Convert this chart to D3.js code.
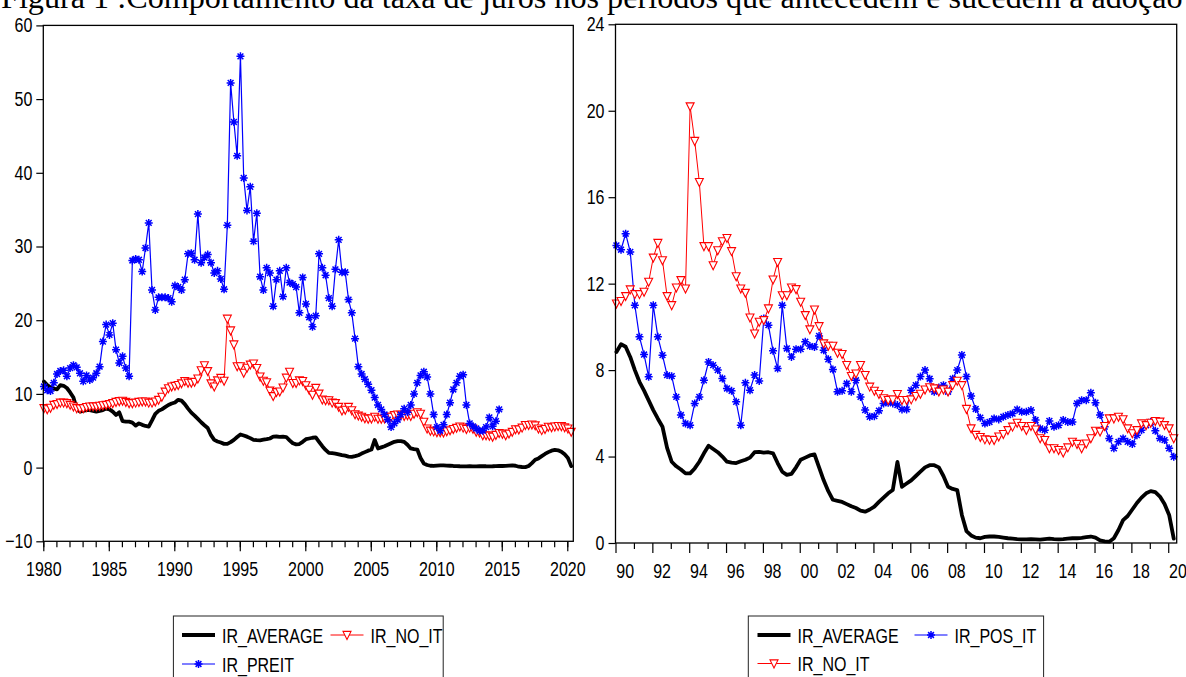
<!DOCTYPE html>
<html>
<head>
<meta charset="utf-8">
<script src="https://cdn.jsdelivr.net/npm/d3@7"></script>
<style>
  body { margin: 0; background: #fff; }
  svg { display: block; }
  .axis path { display: none; }
  .axis line { stroke: #000; stroke-width: 1.2; }
  .axis text, .legend text { font-family: "Liberation Sans", Arial, sans-serif; font-size: 20px; fill: #000; }
</style>
</head>
<body>
<svg id="chart" width="1186" height="677"></svg>
<script>
// quarterly series
// IR_AVERAGE, 1980Q1 - 2020Q2
const irAverage = [
  11.67, 11.2, 10.9, 10.7, 10.63, 11.2, 11.1, 10.8, 10.2, 9.5,
  8.0, 7.6, 7.7, 7.8, 7.8, 7.7, 7.6, 7.7, 7.8, 8.0,
  7.9, 7.6, 7.15, 7.5, 6.3, 6.24, 6.24, 6.1, 5.7, 6.0,
  5.8, 5.65, 5.57, 6.4, 7.3, 7.7, 7.9, 8.2, 8.5, 8.7,
  8.84, 9.2, 9.08, 8.61, 8.0, 7.46, 7.05, 6.6, 6.15, 5.75,
  5.38, 4.4, 3.76, 3.55, 3.4, 3.22, 3.22, 3.45, 3.76, 4.15,
  4.5, 4.35, 4.2, 4.0, 3.76, 3.72, 3.7, 3.78, 3.85, 3.95,
  4.2, 4.22, 4.18, 4.2, 4.15, 3.7, 3.3, 3.15, 3.2, 3.5,
  3.85, 3.95, 4.05, 4.1, 3.5, 2.9, 2.4, 2.0, 1.95, 1.9,
  1.8, 1.7, 1.62, 1.5, 1.45, 1.55, 1.68, 1.9, 2.1, 2.3,
  2.45, 3.75, 2.6, 2.75, 2.9, 3.1, 3.3, 3.5, 3.6, 3.6,
  3.5, 3.1, 2.6, 2.5, 2.45, 1.3, 0.55, 0.35, 0.25, 0.22,
  0.28, 0.3, 0.3, 0.28, 0.25, 0.22, 0.2, 0.18, 0.17, 0.17,
  0.18, 0.17, 0.16, 0.18, 0.2, 0.18, 0.17, 0.18, 0.2, 0.22,
  0.22, 0.24, 0.27, 0.3, 0.25, 0.12, 0.08, 0.06, 0.22, 0.6,
  1.06, 1.25, 1.55, 1.85, 2.1, 2.3, 2.4, 2.35, 2.15, 1.8, 1.3, 0.2
];

// IR_NO_IT, 1980Q1 - 2020Q2
const irNoIt = [
  8.05, 7.9, 8.1, 8.5, 8.6, 8.8, 8.8, 8.73, 8.5, 8.28,
  8.05, 8.0, 8.05, 8.2, 8.28, 8.3, 8.3, 8.37, 8.45, 8.5,
  8.6, 8.73, 8.9, 9.0, 9.05, 8.9, 8.73, 8.73, 8.8, 8.9,
  8.96, 8.96, 8.8, 8.8, 8.96, 9.18, 9.6, 10.3, 10.76, 11.0,
  11.08, 11.19, 11.42, 11.73, 11.51, 11.51, 11.62, 12.08, 13.2, 13.88,
  13.08, 11.42, 11.0, 11.82, 12.16, 11.77, 20.2, 18.6, 16.7, 13.73,
  13.73, 12.85, 13.54, 13.96, 14.11, 13.5, 12.34, 11.77, 11.57, 10.43,
  9.69, 10.23, 10.31, 10.85, 12.19, 13.0, 11.46, 11.46, 11.82, 11.74,
  11.16, 10.54, 9.88, 10.8, 10.03, 9.23, 9.12, 9.12, 8.8, 8.74,
  8.23, 7.72, 7.84, 8.23, 7.77, 7.23, 7.04, 6.89, 6.69, 6.61,
  6.64, 6.89, 6.61, 6.61, 6.64, 6.8, 6.9, 7.1, 7.2, 7.15,
  7.0, 7.1, 7.0, 7.3, 7.5, 7.3, 6.2, 5.3, 5.0, 4.9,
  4.79, 4.77, 4.76, 4.92, 5.04, 5.22, 5.38, 5.56, 5.41, 5.22,
  5.41, 5.25, 4.84, 4.76, 4.38, 4.38, 4.3, 4.18, 4.42, 4.68,
  4.58, 4.38, 4.6, 4.84, 5.19, 5.15, 5.41, 5.76, 5.76, 5.84,
  5.72, 5.3, 5.07, 5.22, 5.53, 5.45, 5.56, 5.64, 5.61, 5.45, 5.3, 4.84
];

// IR_PREIT, 1980Q1 - 2014Q4
const irPreIt = [
  11.0, 10.5, 10.4, 11.5, 12.7, 13.1, 13.2, 12.4, 13.5, 13.9,
  13.6, 12.8, 11.7, 12.5, 11.9, 12.2, 12.8, 13.7, 17.1, 19.4,
  18.0, 19.6, 16.0, 14.2, 15.1, 13.5, 12.4, 28.1, 28.3, 28.2,
  26.6, 29.8, 33.2, 24.1, 21.4, 23.1, 23.1, 23.1, 23.0, 22.5,
  24.7, 24.5, 24.1, 25.5, 29.0, 29.1, 28.2, 34.4, 27.8, 28.5,
  28.9, 27.8, 26.4, 26.7, 25.6, 24.2, 32.9, 52.2, 46.9, 42.3,
  55.8, 39.3, 34.9, 38.1, 30.7, 34.5, 25.9, 24.1, 27.1, 26.4,
  21.9, 25.5, 26.7, 23.2, 27.1, 25.1, 24.9, 24.5, 21.0, 25.8,
  22.2, 20.4, 19.1, 20.6, 29.0, 27.1, 26.1, 23.0, 21.9, 26.9,
  30.9, 26.5, 26.5, 22.8, 21.0, 17.5, 13.7, 12.7, 12.0, 11.3,
  10.5, 9.5, 8.5, 7.9, 7.2, 6.5, 5.5, 6.0, 6.5, 7.2,
  8.0, 7.5, 8.5, 10.0, 11.5, 12.5, 13.0, 12.3, 10.0, 7.2,
  5.5, 5.0, 5.8, 7.2, 8.8, 10.6, 11.5, 12.4, 12.6, 8.5,
  6.0, 5.6, 5.3, 5.0, 5.0, 5.5, 6.8, 5.6, 6.3, 7.9
];

// IR_POS_IT, 1990Q1 - 2020Q2
const irPosIt = [
  13.77, 13.57, 14.31, 13.47, 11.0, 9.54, 8.72, 7.69, 11.0, 9.54,
  8.69, 7.77, 7.72, 6.76, 5.92, 5.53, 5.45, 6.46, 6.76, 7.53,
  8.38, 8.23, 8.0, 7.61, 7.15, 7.04, 6.53, 5.45, 7.41, 7.07,
  7.77, 7.5, 10.39, 10.08, 8.89, 8.07, 11.0, 9.0, 8.61, 8.97,
  8.97, 9.31, 9.11, 9.07, 9.58, 8.92, 8.5, 8.03, 7.0, 7.04,
  7.38, 7.0, 7.53, 6.76, 6.15, 5.84, 5.87, 6.12, 6.46, 6.49,
  6.46, 6.38, 6.18, 6.18, 7.07, 7.3, 7.7, 8.0, 7.6, 7.0,
  7.2, 7.3, 7.0, 7.6, 8.0, 8.7, 7.7, 6.8, 6.2, 5.8,
  5.53, 5.6, 5.76, 5.72, 5.84, 5.92, 5.99, 6.18, 6.07, 6.07,
  6.15, 5.69, 5.3, 5.22, 5.65, 5.38, 5.45, 5.69, 5.6, 5.6,
  6.46, 6.61, 6.61, 6.95, 6.49, 5.92, 5.38, 4.84, 4.38, 4.68,
  4.84, 4.68, 4.58, 4.99, 5.22, 5.45, 5.6, 5.19, 4.84, 4.76, 4.38, 3.99
];

const leftYTicks = [-10, 0, 10, 20, 30, 40, 50, 60];
const rightYTicks = [0, 4, 8, 12, 16, 20, 24];
const leftYearLabels = [1980, 1985, 1990, 1995, 2000, 2005, 2010, 2015, 2020];
const rightYearLabels = [1990, 1992, 1994, 1996, 1998, 2000, 2002, 2004, 2006, 2008, 2010, 2012, 2014, 2016, 2018, 2020];

const titleText = 'Figura 1 :Comportamento da taxa de juros nos períodos que antecedem e sucedem a adoção';

const RED = '#ff0000';
const BLUE = '#0000ff';

// quarter -> fractional year
function toPoints(values, startYear) {
  return values.map((v, i) => ({ t: startYear + i / 4 + 0.05, v }));
}

const svg = d3.select('#chart');

// title, clipped at the top like the scan
const title = svg.append('text')
  .attr('x', 1)
  .attr('y', 7.5)
  .style('font-family', '"Liberation Serif", "Times New Roman", serif')
  .style('font-size', '100px')
  .text(titleText);
const fullLen = title.node().getComputedTextLength();
title.style('font-size', (100 * 1182 / fullLen) + 'px');

const triPath = 'M-4,-3.6L4,-3.6L0,4.4Z';
const starPath = 'M-4,0H4M0,-4V4M-2.9,-2.9L2.9,2.9M-2.9,2.9L2.9,-2.9';

function narrow(sel) {
  sel.each(function () {
    const t = d3.select(this);
    const x = +t.attr('x') || 0;
    t.attr('x', 0).attr('transform', `translate(${x},0) scale(0.8,1)`);
  });
}

function drawMarker(g, s) {
  return g.append('path')
    .attr('d', s.marker === 'tri' ? triPath : starPath)
    .attr('fill', s.marker === 'tri' ? '#fff' : 'none')
    .attr('stroke', s.color)
    .attr('stroke-width', s.marker === 'tri' ? 1.1 : 1.5);
}

function drawSeries(g, x, y, s) {
  const line = d3.line().x(d => x(d.t)).y(d => y(d.v));
  g.append('path')
    .datum(s.points)
    .attr('fill', 'none')
    .attr('stroke', s.color)
    .attr('stroke-width', s.width)
    .attr('stroke-linejoin', 'round')
    .attr('stroke-linecap', 'round')
    .attr('d', line);
  if (s.marker) {
    const mg = g.append('g');
    s.points.forEach(d => {
      drawMarker(mg, s).attr('transform', `translate(${x(d.t)},${y(d.v)})`);
    });
  }
}

function drawPanel(cfg) {
  const { x, y } = cfg;
  const [x0, x1] = x.range();
  const [y0, y1] = y.range();
  const g = svg.append('g');

  // y axis
  const ya = g.append('g')
    .attr('class', 'axis')
    .attr('transform', `translate(${x0},0)`)
    .call(d3.axisLeft(y).tickValues(cfg.yTicks).tickSize(7).tickPadding(4).tickSizeOuter(0));
  narrow(ya.selectAll('text'));

  // x axis ticks
  cfg.xTicks.forEach(tk => {
    g.append('g')
      .attr('class', 'axis')
      .attr('transform', `translate(0,${y0})`)
      .call(d3.axisBottom(x).tickValues(tk.values).tickSize(tk.size).tickFormat('').tickSizeOuter(0));
  });
  const xa = g.append('g')
    .attr('class', 'axis')
    .attr('transform', `translate(0,${y0})`)
    .call(d3.axisBottom(x).tickValues(cfg.xLabels.values).tickSize(cfg.xLabels.size)
      .tickPadding(cfg.xLabels.pad).tickFormat(cfg.xLabels.format).tickSizeOuter(0));
  narrow(xa.selectAll('text'));

  // series
  const plot = g.append('g');
  cfg.series.forEach(s => drawSeries(plot, x, y, s));

  // frame
  g.append('rect')
    .attr('x', x0).attr('y', y1)
    .attr('width', x1 - x0).attr('height', y0 - y1)
    .attr('fill', 'none').attr('stroke', '#000').attr('stroke-width', 1.3);

  // legend
  const lg = svg.append('g').attr('class', 'legend');
  lg.append('rect')
    .attr('x', cfg.legend.x).attr('y', cfg.legend.y)
    .attr('width', cfg.legend.w).attr('height', 100)
    .attr('fill', '#fff').attr('stroke', '#222').attr('stroke-width', 1);
  cfg.legend.items.forEach(it => {
    const s = it.series;
    lg.append('line')
      .attr('x1', it.x).attr('x2', it.x + 33)
      .attr('y1', it.y).attr('y2', it.y)
      .attr('stroke', s.color).attr('stroke-width', s.width);
    if (s.marker) {
      drawMarker(lg, s).attr('transform', `translate(${it.x + 16.5},${it.y})`);
    }
    lg.append('text')
      .attr('transform', `translate(${it.x + 40},${it.y + 7.5}) scale(0.8,1)`)
      .text(s.name);
  });
}

// left panel
const avgAll = { name: 'IR_AVERAGE', points: toPoints(irAverage, 1980), color: '#000', width: 3.8 };
const noItAll = { name: 'IR_NO_IT', points: toPoints(irNoIt, 1980), color: RED, width: 1, marker: 'tri' };
const preIt = { name: 'IR_PREIT', points: toPoints(irPreIt, 1980), color: BLUE, width: 1.2, marker: 'star' };

drawPanel({
  x: d3.scaleLinear().domain([1980, 2020.46]).range([43.3, 573.3]),
  y: d3.scaleLinear().domain([-10, 60]).range([541.3, 25.4]),
  yTicks: leftYTicks,
  xTicks: [{ values: d3.range(1980, 2021), size: 6 }],
  xLabels: { values: leftYearLabels, size: 10, pad: 10.7, format: d => String(d) },
  series: [avgAll, noItAll, preIt],
  legend: {
    x: 173.4, y: 616, w: 269.8,
    items: [
      { series: avgAll, x: 182, y: 635 },
      { series: noItAll, x: 330.5, y: 635 },
      { series: preIt, x: 182, y: 664 }
    ]
  }
});

// right panel
const avg90 = { name: 'IR_AVERAGE', points: toPoints(irAverage.slice(40), 1990), color: '#000', width: 3.8 };
const noIt90 = { name: 'IR_NO_IT', points: toPoints(irNoIt.slice(40), 1990), color: RED, width: 1, marker: 'tri' };
const posIt = { name: 'IR_POS_IT', points: toPoints(irPosIt, 1990), color: BLUE, width: 1.2, marker: 'star' };

drawPanel({
  x: d3.scaleLinear().domain([1990, 2020.46]).range([615.5, 1176.7]),
  y: d3.scaleLinear().domain([0, 24]).range([543, 24.3]),
  yTicks: rightYTicks,
  xTicks: [
    { values: d3.range(1991, 2021, 2), size: 6 },
    { values: d3.range(1990, 2021, 2), size: 10 }
  ],
  xLabels: {
    values: rightYearLabels.map(d => d + 0.5), size: 0, pad: 20.7,
    format: d => String(Math.floor(d) % 100).padStart(2, '0')
  },
  series: [avg90, posIt, noIt90],
  legend: {
    x: 748.3, y: 616, w: 295.3,
    items: [
      { series: avg90, x: 757.5, y: 635 },
      { series: posIt, x: 914.5, y: 635 },
      { series: noIt90, x: 757.5, y: 663.5 }
    ]
  }
});
</script>
</body>
</html>
